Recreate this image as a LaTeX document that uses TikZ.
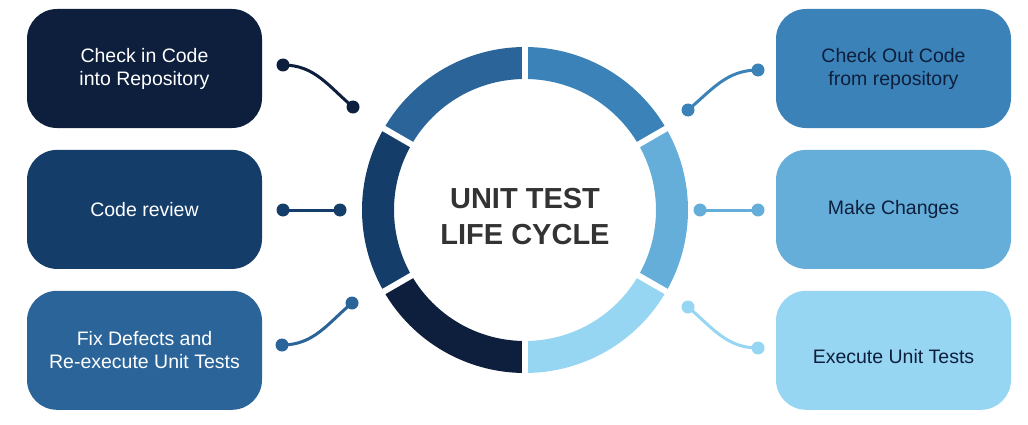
\documentclass[tikz,border=0pt]{standalone}
\usepackage{fontspec}
\setmainfont{Liberation Sans}
\usetikzlibrary{positioning}
\definecolor{NavyInk}{HTML}{0D1F3C}
\definecolor{DeepBlue}{HTML}{143D69}
\definecolor{MidBlue}{HTML}{2A6499}
\definecolor{OceanBlue}{HTML}{3A82B8}
\definecolor{SkyBlue}{HTML}{65AEDA}
\definecolor{IceBlue}{HTML}{97D6F2}
\definecolor{TitleGray}{HTML}{333333}

\begin{document}
\begin{tikzpicture}[x=1pt,y=1pt,
  stage/.style={rounded corners=30pt,minimum width=235pt,minimum height=119pt,align=center,font=\fontsize{19.5}{23}\selectfont},
  link/.style={line width=3pt,line cap=round}]
\useasboundingbox (0,0) rectangle (1028,424);

% ring
\begin{scope}[shift={(525,214)}]
\foreach \a/\c in {90/MidBlue,150/DeepBlue,210/NavyInk,270/IceBlue,330/SkyBlue,30/OceanBlue}
  \fill[\c] (\a:163) arc[start angle=\a,delta angle=60,radius=163] -- (\a+60:131) arc[start angle=\a+60,delta angle=-60,radius=131] -- cycle;
\foreach \a in {30,90,...,330}
  \draw[white,line width=6pt] (\a:125) -- (\a:170);
\node[font=\bfseries\fontsize{29}{36}\selectfont,text=TitleGray,align=center] (title) at (0,-7) {UNIT TEST\\LIFE CYCLE};
\end{scope}

% left column
\node[stage,fill=NavyInk,text=white] (checkin) at (144.5,355.5) {Check in Code\\into Repository};
\node[stage,fill=DeepBlue,text=white,below=21.5pt of checkin] (review) {Code review};
\node[stage,fill=MidBlue,text=white,below=21.5pt of review] (fix) {Fix Defects and\\Re-execute Unit Tests};

% right column
\node[stage,fill=OceanBlue,text=NavyInk] (checkout) at (893.5,355.5) {Check Out Code\\from repository};
\node[stage,fill=SkyBlue,text=NavyInk,below=21.5pt of checkout] (change) {Make Changes};
\node[stage,fill=IceBlue,text=NavyInk,text height=26pt,below=21.5pt of change] (execute) {Execute Unit Tests};

% connector ends
\coordinate (ci1) at (283,359);  \coordinate (ci2) at (353,317);
\coordinate (cr1) at (283,214);  \coordinate (cr2) at (340,214);
\coordinate (fx1) at (282,79);   \coordinate (fx2) at (352,121);
\coordinate (co1) at (758,354);  \coordinate (co2) at (688,314);
\coordinate (mc1) at (758,214);  \coordinate (mc2) at (700,214);
\coordinate (ex1) at (758,76);   \coordinate (ex2) at (688,117);

\draw[link,NavyInk] (ci1) to[out=0,in=140] (ci2);
\draw[link,DeepBlue] (cr1) -- (cr2);
\draw[link,MidBlue] (fx1) to[out=0,in=220] (fx2);
\draw[link,OceanBlue] (co1) to[out=180,in=40] (co2);
\draw[link,SkyBlue] (mc1) -- (mc2);
\draw[link,IceBlue] (ex1) to[out=180,in=-40] (ex2);

\foreach \p/\c in {ci1/NavyInk,ci2/NavyInk,cr1/DeepBlue,cr2/DeepBlue,fx1/MidBlue,fx2/MidBlue,co1/OceanBlue,co2/OceanBlue,mc1/SkyBlue,mc2/SkyBlue,ex1/IceBlue,ex2/IceBlue}
  \fill[\c] (\p) circle (6.5pt);
\end{tikzpicture}
\end{document}
